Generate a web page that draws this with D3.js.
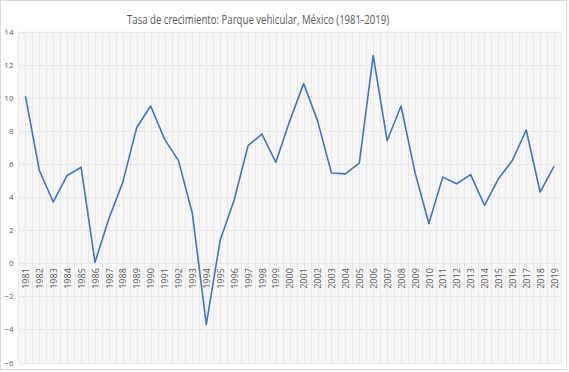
<!DOCTYPE html>
<html lang="es">
<head>
  <meta charset="UTF-8">
  <title>Tasa de crecimiento: Parque vehicular</title>
  <script src="https://d3js.org/d3.v7.min.js"></script>
  <style>
    body { margin: 0; background: #fff; }
    text { font-family: "Open Sans", "Liberation Sans", sans-serif; fill: #595959; }
    .grid line { stroke: #e8e8e8; stroke-width: 1px; }
    .serie { fill: none; stroke: #4472c4; stroke-width: 1.6px; stroke-linejoin: round; }
  </style>
</head>
<body>
<script>
  // Datos
  const years = d3.range(1981, 2020).map(String);
  const tasa = [10.1, 5.6, 3.7, 5.3, 5.8, 0.05, 2.7, 4.9, 8.2, 9.5,
                7.5, 6.2, 3.0, -3.7, 1.4, 3.8, 7.1, 7.8, 6.1, 8.6,
                10.85, 8.6, 5.45, 5.4, 6.05, 12.55, 7.4, 9.5, 5.5, 2.4,
                5.2, 4.8, 5.35, 3.5, 5.1, 6.2, 8.05, 4.3, 5.85];
  const yTicks = d3.range(-6, 15, 2);

  const W = 569, H = 372;
  const plot = {left: 18.5, right: 561, top: 31.5, bottom: 362.5};

  const svg = d3.select("body").append("svg")
    .attr("width", W)
    .attr("height", H);

  // hatched background pattern (like excel fill)
  const defs = svg.append("defs");
  const pat = defs.append("pattern")
    .attr("id", "trama")
    .attr("width", 2).attr("height", 2)
    .attr("patternUnits", "userSpaceOnUse");
  pat.append("rect").attr("width", 2).attr("height", 2).attr("fill", "#fcfcfc");
  pat.append("rect").attr("width", 1).attr("height", 1).attr("fill", "#f1f1f1");
  pat.append("rect").attr("x", 1).attr("y", 1).attr("width", 1).attr("height", 1).attr("fill", "#f1f1f1");

  // outer border of chart
  svg.append("rect")
    .attr("x", 0.5).attr("y", 0.5)
    .attr("width", W - 3).attr("height", H - 3)
    .attr("fill", "#fff")
    .attr("stroke", "#d9d9d9");

  svg.append("rect")
    .attr("x", plot.left).attr("y", plot.top)
    .attr("width", plot.right - plot.left)
    .attr("height", plot.bottom - plot.top)
    .attr("fill", "url(#trama)");

  const x = d3.scalePoint()
    .domain(years)
    .range([plot.left, plot.right])
    .padding(0.5);

  const y = d3.scaleLinear()
    .domain([-6, 14])
    .range([plot.bottom, plot.top]);

  // vertical gridlines: category edges and centres
  const step = x.step();
  const vx = [];
  years.forEach(d => { vx.push(x(d) - step / 2); vx.push(x(d)); });
  vx.push(plot.right);

  const grid = svg.append("g").attr("class", "grid");
  grid.selectAll(".v")
    .data(vx)
    .enter().append("line")
    .attr("x1", d => Math.round(d) + 0.5)
    .attr("x2", d => Math.round(d) + 0.5)
    .attr("y1", plot.top)
    .attr("y2", plot.bottom);

  grid.selectAll(".h")
    .data(yTicks)
    .enter().append("line")
    .attr("x1", plot.left)
    .attr("x2", plot.right)
    .attr("y1", d => Math.round(y(d)) + 0.5)
    .attr("y2", d => Math.round(y(d)) + 0.5)
    .attr("stroke", "#dcdcdc");

  // y axis labels
  const yAxis = d3.axisLeft(y).tickValues(yTicks).tickSize(0).tickPadding(5);
  const gy = svg.append("g")
    .attr("transform", `translate(${plot.left},0)`)
    .call(yAxis);
  gy.select(".domain").remove();
  gy.selectAll("text")
    .style("font-size", "8px")
    .attr("fill", "#595959");

  // x axis labels at zero line, rotated
  const gx = svg.append("g")
    .attr("transform", `translate(0,${y(0)})`)
    .call(d3.axisBottom(x).tickSize(0));
  gx.select(".domain").remove();
  gx.selectAll("text")
    .style("font-size", "9px")
    .attr("fill", "#595959")
    .attr("text-anchor", "end")
    .attr("transform", "rotate(-90)")
    .attr("x", -5)
    .attr("y", 0)
    .attr("dy", "0.35em");

  // the line
  const line = d3.line()
    .x((d, i) => x(years[i]))
    .y(d => y(d));

  svg.append("path")
    .datum(tasa)
    .attr("class", "serie")
    .attr("d", line);

  // title
  svg.append("text")
    .attr("x", 258)
    .attr("y", 24)
    .attr("text-anchor", "middle")
    .attr("textLength", 262)
    .attr("lengthAdjust", "spacingAndGlyphs")
    .style("font-size", "12.5px")
    .text("Tasa de crecimiento: Parque vehicular, México (1981-2019)");
</script>
</body>
</html>
